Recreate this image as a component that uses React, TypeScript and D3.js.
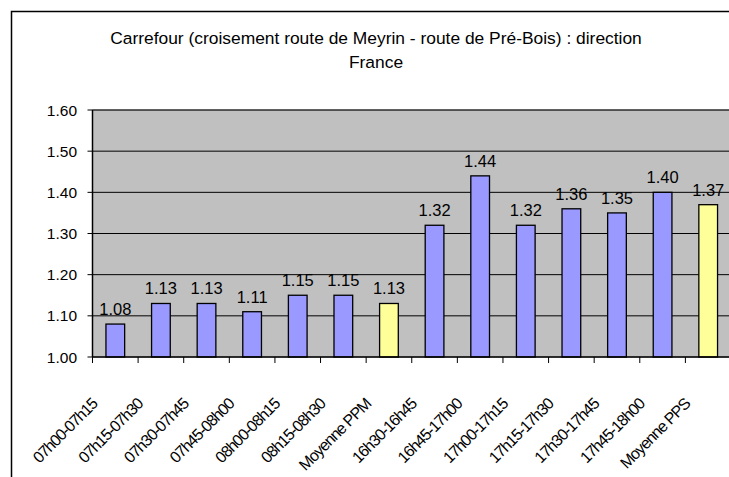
import React from "react";
import * as d3 from "d3";

const categories = [
  "07h00-07h15", "07h15-07h30", "07h30-07h45", "07h45-08h00", "08h00-08h15",
  "08h15-08h30", "Moyenne PPM", "16h30-16h45", "16h45-17h00", "17h00-17h15",
  "17h15-17h30", "17h30-17h45", "17h45-18h00", "Moyenne PPS",
];
const values = [1.08, 1.13, 1.13, 1.11, 1.15, 1.15, 1.13, 1.32, 1.44, 1.32, 1.36, 1.35, 1.4, 1.37];
const averages = ["Moyenne PPM", "Moyenne PPS"];
const yTicks = [1.0, 1.1, 1.2, 1.3, 1.4, 1.5, 1.6];
const titleLines = ["Carrefour (croisement route de Meyrin - route de Pré-Bois) : direction", "France"];

const W = 729;
const H = 477;
const font = "'Liberation Sans', Arial, sans-serif";

export default function App() {
  const plot = { left: 92.5, top: 110, bottom: 357, right: 731 };

  const x = d3.scaleBand<string>().domain(categories).range([plot.left, plot.right]);
  const y = d3.scaleLinear().domain([1.0, 1.6]).range([plot.bottom, plot.top]);
  const barW = x.bandwidth() * 0.41;
  const fmt = d3.format(".2f");

  return (
    <svg width={W} height={H} style={{ position: "absolute", left: 0, top: 0, background: "#fff" }} fontFamily={font}>
      {/* chart area border */}
      <rect x={11.5} y={11.5} width={W + 20} height={H + 20} fill="#fff" stroke="#000" strokeWidth={1.5} />

      {/* title */}
      {titleLines.map((t, i) => (
        <text key={i} x={376} y={44 + i * 24} textAnchor="middle" fontSize={17.4} fill="#000">
          {t}
        </text>
      ))}

      {/* plot area */}
      <rect x={plot.left} y={plot.top} width={plot.right - plot.left} height={plot.bottom - plot.top} fill="#c0c0c0" stroke="#808080" />

      {/* gridlines */}
      {yTicks.slice(1).map((t) => (
        <line key={t} x1={plot.left} x2={plot.right} y1={y(t)} y2={y(t)} stroke="#000" strokeWidth={1} />
      ))}

      {/* bars */}
      {categories.map((c, i) => {
        const cx = (x(c) as number) + x.bandwidth() / 2;
        return (
          <g key={c}>
            <rect
              x={cx - barW / 2}
              y={y(values[i])}
              width={barW}
              height={plot.bottom - y(values[i])}
              fill={averages.includes(c) ? "#ffff99" : "#9999ff"}
              stroke="#000"
              strokeWidth={1.3}
            />
            <text x={cx} y={y(values[i]) - 9} textAnchor="middle" fontSize={16.5} fill="#000">
              {fmt(values[i])}
            </text>
          </g>
        );
      })}

      {/* y axis */}
      <line x1={plot.left} x2={plot.left} y1={plot.top} y2={plot.bottom} stroke="#000" strokeWidth={1.5} />
      {yTicks.map((t) => (
        <g key={t}>
          <line x1={plot.left - 5} x2={plot.left} y1={y(t)} y2={y(t)} stroke="#000" />
          <text x={77} y={y(t) + 5.5} textAnchor="end" fontSize={15.5} fill="#000">
            {fmt(t)}
          </text>
        </g>
      ))}

      {/* x axis */}
      <line x1={plot.left} x2={plot.right} y1={plot.bottom} y2={plot.bottom} stroke="#000" strokeWidth={1.5} />
      {categories.map((c) => (
        <line key={c} x1={x(c) as number} x2={x(c) as number} y1={plot.bottom} y2={plot.bottom + 6} stroke="#000" />
      ))}
      {categories.map((c) => {
        const cx = (x(c) as number) + x.bandwidth() / 2;
        return (
          <text
            key={c}
            transform={`translate(${cx - 17},${plot.bottom + 48}) rotate(-45)`}
            textAnchor="end"
            fontSize={16}
            letterSpacing={-1}
            fill="#000"
          >
            {c}
          </text>
        );
      })}
    </svg>
  );
}
